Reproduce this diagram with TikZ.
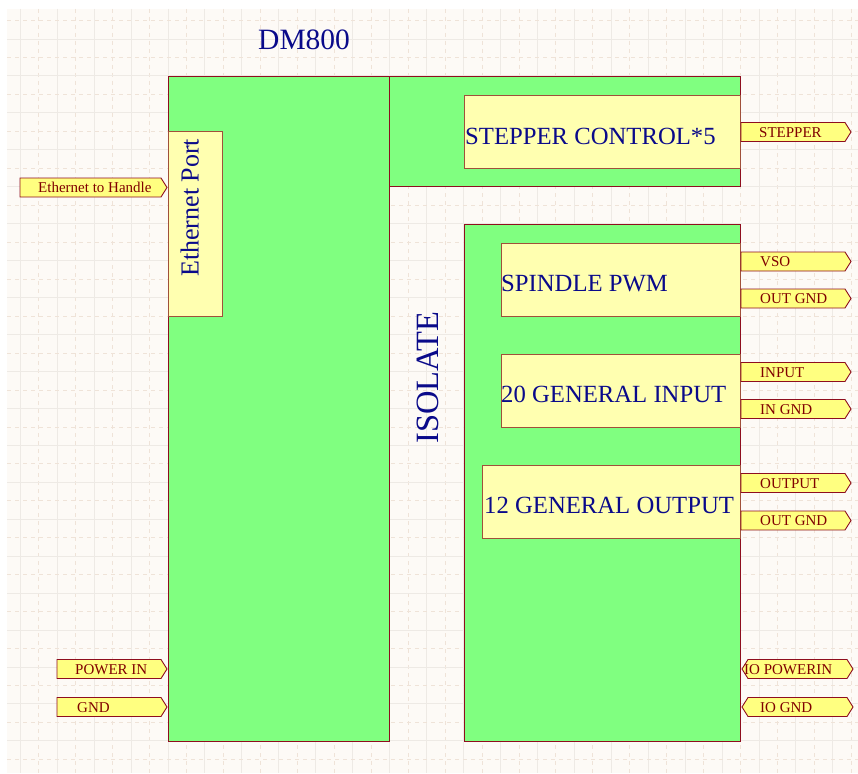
\documentclass[tikz,border=0pt]{standalone}
\usepackage{fontspec}
\setmainfont{Liberation Serif}
\definecolor{sheet}{HTML}{FDFAF6}
\definecolor{gridmaj}{HTML}{EEEAE5}
\definecolor{gridmin}{HTML}{EFE3D8}
\definecolor{blkgreen}{HTML}{80FF80}
\definecolor{blkyellow}{HTML}{FFFFB0}
\definecolor{portyellow}{HTML}{FFFF80}
\definecolor{blkline}{HTML}{8E0E1E}
\definecolor{yline}{HTML}{A0503A}
\definecolor{navytxt}{HTML}{0A0A8A}
\definecolor{porttxt}{HTML}{800000}
\tikzset{
  greenblk/.style={draw=blkline, fill=blkgreen, line width=1pt, rectangle, inner sep=0pt, anchor=north west},
  yellowblk/.style={draw=yline, fill=blkyellow, line width=1pt, rectangle, inner sep=0pt, anchor=north west},
  portline/.style={draw=blkline, fill=portyellow, line width=0.9pt, line join=miter},
  porttext/.style={text=porttxt, inner sep=0pt, font=\fontsize{15}{18}\selectfont},
  blktext/.style={text=navytxt, inner sep=0pt, font=\fontsize{24.7}{30}\selectfont},
}
% right-pointing port: x1, x2, yc, textx, name, text
\newcommand{\rportdraw}[6]{%
  \draw[portline] (#1,#3-9.5) -- (#2-6,#3-9.5) -- (#2,#3) -- (#2-6,#3+9.5) -- (#1,#3+9.5) -- cycle;
  \node[porttext, anchor=base west] (#5) at (#4,#3+5) {#6};}
% bidirectional port
\newcommand{\bportdraw}[6]{%
  \draw[portline] (#1,#3) -- (#1+6,#3-9.5) -- (#2-6,#3-9.5) -- (#2,#3) -- (#2-6,#3+9.5) -- (#1+6,#3+9.5) -- cycle;
  \node[porttext, anchor=base west] (#5) at (#4,#3+5) {#6};}
\begin{document}
\begin{tikzpicture}[x=1pt,y=-1pt]
\useasboundingbox (0,0) rectangle (858,773);
\fill[white] (0,0) rectangle (858,773);
\fill[sheet] (7,9) rectangle (858,773);
% grid
\begin{scope}
\clip (7,9) rectangle (858,773);
\foreach \n in {-5,...,19} {
  \draw[gridmaj, line width=1pt] (168+36.94*\n,9) -- (168+36.94*\n,773);
  \draw[gridmin, line width=0.8pt, dash pattern=on 4pt off 4pt] (168+36.94*\n+18.47,9) -- (168+36.94*\n+18.47,773);
}
\foreach \n in {-2,...,19} {
  \draw[gridmaj, line width=1pt] (7,76+36.94*\n) -- (858,76+36.94*\n);
  \draw[gridmin, line width=0.8pt, dash pattern=on 4pt off 4pt] (7,76+36.94*\n+18.47) -- (858,76+36.94*\n+18.47);
}
\end{scope}
% green blocks
\node[greenblk, minimum width=221pt, minimum height=665pt] (dm) at (168,76) {};
\node[greenblk, minimum width=351pt, minimum height=110pt] (stepgrp) at (389,76) {};
\node[greenblk, minimum width=276pt, minimum height=517pt] (isogrp) at (464,224) {};
% yellow blocks
\node[yellowblk, minimum width=54pt, minimum height=185pt] (eth) at (168,131) {};
\node[yellowblk, minimum width=276pt, minimum height=73pt] (stepper) at (464,95) {};
\node[yellowblk, minimum width=239pt, minimum height=73pt] (spindle) at (501,243) {};
\node[yellowblk, minimum width=239pt, minimum height=73pt] (ginput) at (501,354) {};
\node[yellowblk, minimum width=258pt, minimum height=73pt] (goutput) at (482,465) {};
% block texts
\node[blktext, font=\fontsize{29.5}{34}\selectfont, anchor=base west] (dmtxt) at (258,50) {DM800};
\node[blktext, anchor=base west] (steptxt) at (465,144) {STEPPER CONTROL*5};
\node[blktext, anchor=base west] (spintxt) at (501,291) {SPINDLE PWM};
\node[blktext, anchor=base west] (intxt) at (501,402) {20 GENERAL INPUT};
\node[blktext, anchor=base west] (outtxt) at (484,513) {12 GENERAL OUTPUT};
\node[blktext, font=\fontsize{32.5}{38}\selectfont, anchor=base west, rotate=90] (isotxt) at (438.5,444) {ISOLATE};
\node[blktext, font=\fontsize{26}{31}\selectfont, anchor=base west, rotate=90] (ethtxt) at (198.5,277) {Ethernet Port};
% ports
\rportdraw{20}{167}{187.5}{38}{pEth}{Ethernet to Handle}
\rportdraw{57}{167}{669}{75}{pPow}{POWER IN}
\rportdraw{57}{167}{707}{77}{pGnd}{GND}
\rportdraw{741}{851}{132}{759}{pStep}{STEPPER}
\rportdraw{741}{851}{261.5}{760}{pVso}{VSO}
\rportdraw{741}{851}{298.5}{760}{pOgA}{OUT GND}
\rportdraw{741}{851}{372}{760}{pIn}{INPUT}
\rportdraw{741}{851}{409}{760}{pIg}{IN GND}
\rportdraw{741}{851}{483}{760}{pOut}{OUTPUT}
\rportdraw{741}{851}{520.5}{760}{pOgB}{OUT GND}
\bportdraw{742}{853}{669}{744}{pIop}{IO POWERIN}
\bportdraw{742}{853}{707}{760}{pIog}{IO GND}
\end{tikzpicture}
\end{document}
